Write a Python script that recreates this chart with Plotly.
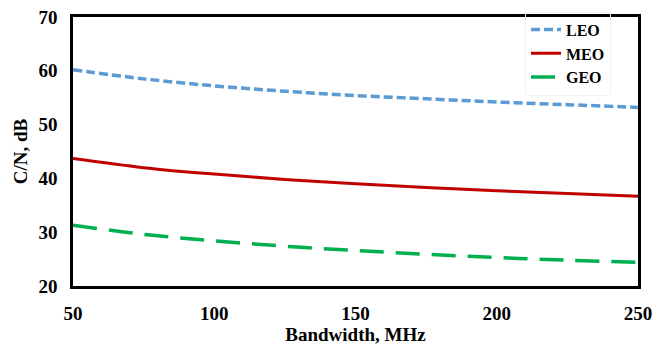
import plotly.graph_objects as go

bandwidth = [50, 75, 100, 125, 150, 175, 200, 225, 250]
leo = [60.2, 58.5, 57.2, 56.2, 55.4, 54.8, 54.2, 53.7, 53.2]
meo = [43.7, 42.0, 40.8, 39.8, 39.0, 38.3, 37.7, 37.2, 36.7]
geo = [31.3, 29.6, 28.4, 27.4, 26.6, 25.9, 25.3, 24.8, 24.4]
x_ticks = [50, 100, 150, 200, 250]
y_ticks = [20, 30, 40, 50, 60, 70]

FONT = "Liberation Serif"
SIZE = 19

fig = go.Figure()
fig.add_trace(go.Scatter(x=bandwidth, y=leo, name="LEO", mode="lines", line_shape="spline",
                         line=dict(color="#5B9BD5", width=3.5, dash="9px,4px")))
fig.add_trace(go.Scatter(x=bandwidth, y=meo, name="MEO", mode="lines", line_shape="spline",
                         line=dict(color="#C00000", width=3)))
fig.add_trace(go.Scatter(x=bandwidth, y=geo, name="GEO", mode="lines", line_shape="spline",
                         line=dict(color="#00B050", width=3.5, dash="24px,12px")))

fig.update_layout(
    width=672, height=349,
    margin=dict(l=73, r=34, t=15, b=63),
    paper_bgcolor="white", plot_bgcolor="white",
    font=dict(family=FONT, size=SIZE, color="black", weight="bold"),
    showlegend=True,
    legend=dict(x=0.80, y=1.02, xanchor="left", yanchor="top",
                bgcolor="rgba(255,255,255,0)", bordercolor="#f2f2f2", borderwidth=1,
                font=dict(family=FONT, size=16, color="black", weight="bold"),
                tracegroupgap=0),
)
fig.update_xaxes(range=[50, 250], tickvals=x_ticks, showgrid=False, zeroline=False,
                 showline=True, linecolor="black", linewidth=2.5, mirror=True,
                 ticks="", ticklabelstandoff=8, automargin=False,
                 tickfont=dict(family=FONT, size=SIZE, color="black", weight="bold"),
                 title=dict(text="Bandwidth, MHz", standoff=3,
                            font=dict(family=FONT, size=SIZE, color="black", weight="bold")))
fig.update_yaxes(range=[20, 70], tickvals=y_ticks, showgrid=False, zeroline=False,
                 showline=True, linecolor="black", linewidth=2.5, mirror=True,
                 ticks="", ticklabelstandoff=9, automargin=False,
                 tickfont=dict(family=FONT, size=SIZE, color="black", weight="bold"),
                 title=dict(text="C/N, dB", standoff=6,
                            font=dict(family=FONT, size=SIZE, color="black", weight="bold")))

fig.write_html("out.html", config={"displayModeBar": False},
               post_script="document.body.style.margin='0';")
